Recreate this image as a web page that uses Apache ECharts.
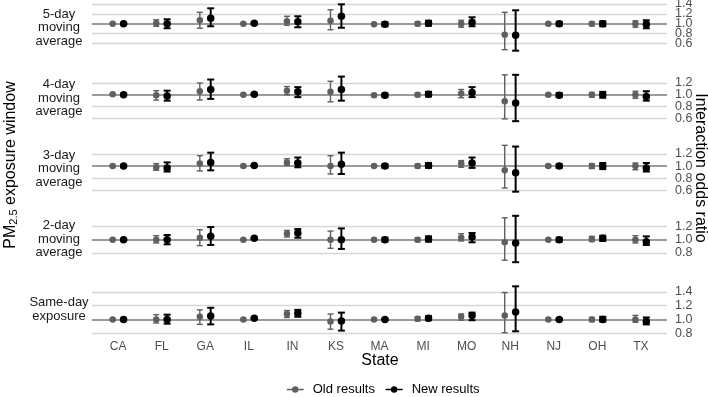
<!DOCTYPE html>
<html>
<head>
<meta charset="utf-8">
<script src="https://cdn.jsdelivr.net/npm/echarts@6/dist/echarts.min.js"></script>
<style>
  html, body { margin: 0; padding: 0; background: #fff; }
  #main { width: 708px; height: 397px; }
</style>
</head>
<body>
<div id="main"></div>
<script>
// categories
const states = ['CA', 'FL', 'GA', 'IL', 'IN', 'KS', 'MA', 'MI', 'MO', 'NH', 'NJ', 'OH', 'TX'];
const windows = ['5-day\nmoving\naverage', '4-day\nmoving\naverage', '3-day\nmoving\naverage',
                 '2-day\nmoving\naverage', 'Same-day\nexposure'];

// one row per exposure window (same order as windows), one value per state
const oldEst = [
    [1.00, 1.01, 1.07, 1.00, 1.05, 1.06, 0.99, 1.00, 1.00, 0.78, 1.00, 1.00, 1.00],
    [1.01, 0.99, 1.06, 1.00, 1.07, 1.05, 0.99, 1.00, 1.02, 0.89, 1.00, 1.00, 1.00],
    [1.00, 0.98, 1.04, 1.00, 1.06, 1.00, 1.00, 1.00, 1.04, 0.93, 1.00, 1.00, 1.00],
    [1.00, 1.00, 1.03, 1.00, 1.09, 1.00, 1.00, 1.00, 1.03, 0.96, 1.00, 1.01, 1.00],
    [1.00, 1.00, 1.04, 1.00, 1.08, 0.97, 1.00, 1.01, 1.04, 1.06, 1.00, 1.00, 1.00]
];
const oldLo = [
    [0.99, 0.95, 0.91, 0.99, 0.97, 0.88, 0.97, 0.96, 0.93, 0.48, 0.98, 0.96, 0.93],
    [1.00, 0.91, 0.91, 0.99, 1.00, 0.88, 0.97, 0.97, 0.95, 0.59, 0.98, 0.96, 0.94],
    [0.99, 0.93, 0.92, 0.99, 1.01, 0.87, 0.98, 0.97, 0.98, 0.64, 0.98, 0.96, 0.94],
    [0.99, 0.95, 0.91, 0.99, 1.04, 0.87, 0.98, 0.97, 0.98, 0.69, 0.99, 0.97, 0.95],
    [0.99, 0.95, 0.93, 0.99, 1.03, 0.86, 0.99, 0.98, 0.99, 0.81, 0.99, 0.97, 0.96]
];
const oldHi = [
    [1.01, 1.08, 1.23, 1.01, 1.15, 1.28, 1.01, 1.04, 1.07, 1.23, 1.02, 1.04, 1.06],
    [1.02, 1.07, 1.20, 1.01, 1.14, 1.23, 1.01, 1.03, 1.09, 1.34, 1.02, 1.04, 1.06],
    [1.01, 1.04, 1.17, 1.01, 1.12, 1.17, 1.02, 1.03, 1.09, 1.34, 1.02, 1.04, 1.05],
    [1.01, 1.06, 1.15, 1.01, 1.14, 1.13, 1.02, 1.03, 1.09, 1.33, 1.01, 1.05, 1.06],
    [1.01, 1.07, 1.14, 1.01, 1.13, 1.08, 1.01, 1.04, 1.08, 1.39, 1.01, 1.03, 1.06]
];
const newEst = [
    [1.00, 1.00, 1.11, 1.01, 1.04, 1.15, 0.99, 1.01, 1.03, 0.77, 1.00, 1.00, 0.99],
    [1.00, 0.98, 1.09, 1.01, 1.05, 1.09, 0.99, 1.01, 1.04, 0.86, 0.99, 1.00, 0.97],
    [1.00, 0.97, 1.06, 1.01, 1.05, 1.03, 1.00, 1.01, 1.05, 0.89, 1.00, 1.00, 0.97],
    [1.00, 1.00, 1.05, 1.02, 1.10, 1.00, 1.00, 1.01, 1.04, 0.95, 1.00, 1.02, 0.97],
    [1.00, 1.00, 1.05, 1.02, 1.09, 0.98, 1.00, 1.02, 1.06, 1.11, 1.00, 1.00, 0.97]
];
const newLo = [
    [0.99, 0.91, 0.95, 0.99, 0.93, 0.92, 0.95, 0.96, 0.95, 0.46, 0.96, 0.95, 0.91],
    [0.99, 0.90, 0.93, 1.00, 0.96, 0.90, 0.96, 0.97, 0.96, 0.55, 0.96, 0.95, 0.90],
    [0.99, 0.91, 0.93, 1.00, 0.98, 0.87, 0.97, 0.97, 0.97, 0.58, 0.97, 0.95, 0.91],
    [0.99, 0.93, 0.92, 1.01, 1.03, 0.86, 0.97, 0.97, 0.96, 0.66, 0.97, 0.98, 0.92],
    [0.99, 0.94, 0.93, 1.01, 1.04, 0.84, 0.99, 0.99, 0.99, 0.83, 0.99, 0.97, 0.93]
];
const newHi = [
    [1.01, 1.09, 1.31, 1.03, 1.15, 1.39, 1.03, 1.06, 1.13, 1.27, 1.04, 1.05, 1.07],
    [1.01, 1.07, 1.26, 1.02, 1.13, 1.31, 1.02, 1.05, 1.13, 1.34, 1.03, 1.05, 1.06],
    [1.01, 1.06, 1.22, 1.02, 1.14, 1.22, 1.03, 1.05, 1.14, 1.32, 1.03, 1.05, 1.05],
    [1.01, 1.07, 1.19, 1.03, 1.16, 1.17, 1.03, 1.05, 1.10, 1.36, 1.03, 1.06, 1.05],
    [1.01, 1.07, 1.17, 1.03, 1.14, 1.10, 1.01, 1.05, 1.10, 1.48, 1.01, 1.04, 1.03]
];

// y tick labels per panel
const breaks = [
    [0.6, 0.8, 1.0, 1.2, 1.4],
    [0.6, 0.8, 1.0, 1.2],
    [0.6, 0.8, 1.0, 1.2],
    [0.8, 1.0, 1.2],
    [0.8, 1.0, 1.2, 1.4]
];

const OLD_COLOR = '#5f5f5f';
const NEW_COLOR = '#000000';
const FONT = "'Liberation Sans', Arial, sans-serif";
const DODGE = 0.125;

const panelTop = k => 2 + 70.5 * k;
const panelH = 51;

// error bar drawing (vertical line + caps)
function errorBar(color, width, halfCap) {
    return function (params, api) {
        const x = api.value(0);
        const pLo = api.coord([x, api.value(1)]);
        const pHi = api.coord([x, api.value(2)]);
        const style = { stroke: color, lineWidth: width };
        return {
            type: 'group',
            children: [
                { type: 'line', shape: { x1: pLo[0], y1: pLo[1], x2: pHi[0], y2: pHi[1] }, style: style },
                { type: 'line', shape: { x1: pLo[0] - halfCap, y1: pLo[1], x2: pLo[0] + halfCap, y2: pLo[1] }, style: style },
                { type: 'line', shape: { x1: pHi[0] - halfCap, y1: pHi[1], x2: pHi[0] + halfCap, y2: pHi[1] }, style: style }
            ]
        };
    };
}

const grids = [], xAxes = [], yAxes = [], series = [], graphics = [];

windows.forEach((w, k) => {
    grids.push({ left: 92, right: 41, top: panelTop(k), height: panelH });

    const isLast = k === windows.length - 1;
    xAxes.push({
        gridIndex: k,
        type: 'value',
        min: 0.4,
        max: 13.6,
        axisLine: { show: false },
        axisTick: { show: false },
        splitLine: { show: false },
        axisLabel: {
            show: isLast,
            customValues: states.map((s, i) => i + 1),
            formatter: v => states[Math.round(v) - 1] || '',
            showMinLabel: true,
            showMaxLabel: true,
            color: '#4d4d4d',
            fontSize: 12,
            fontFamily: FONT,
            margin: 6
        }
    });

    // 5% expansion like ggplot
    const all = oldLo[k].concat(oldHi[k], newLo[k], newHi[k]);
    const lo = Math.min(...all), hi = Math.max(...all);
    const pad = (hi - lo) * 0.05;
    yAxes.push({
        gridIndex: k,
        type: 'value',
        position: 'right',
        min: lo - pad,
        max: hi + pad,
        axisLine: { show: false },
        axisTick: { show: false },
        splitLine: { show: false },
        axisLabel: { show: false }
    });

    // gridlines + reference line at 1, tick labels at the right end
    series.push({
        type: 'line',
        name: 'grid' + k,
        xAxisIndex: k,
        yAxisIndex: k,
        data: [],
        z: 1,
        markLine: {
            silent: true,
            symbol: 'none',
            animation: false,
            z: 1,
            label: {
                show: true,
                position: 'end',
                distance: 8,
                formatter: p => Number(p.value).toFixed(1),
                color: '#4d4d4d',
                fontSize: 12.5,
                fontFamily: FONT
            },
            data: breaks[k].map(b => ({
                yAxis: b,
                lineStyle: b === 1.0
                    ? { color: '#7a7a7a', width: 1.6, type: 'solid' }
                    : { color: '#d6d6d6', width: 1.3, type: 'solid' }
            }))
        }
    });

    const groups = [
        { name: 'Old results', est: oldEst[k], lo: oldLo[k], hi: oldHi[k], dx: -DODGE, color: OLD_COLOR, lw: 1.4, cap: 3, size: 6.5 },
        { name: 'New results', est: newEst[k], lo: newLo[k], hi: newHi[k], dx: DODGE, color: NEW_COLOR, lw: 2, cap: 3.5, size: 7.5 }
    ];
    groups.forEach((g, gi) => {
        series.push({
            type: 'custom',
            name: g.name + ' CI',
            xAxisIndex: k,
            yAxisIndex: k,
            z: 3 + gi * 2,
            silent: true,
            renderItem: errorBar(g.color, g.lw, g.cap),
            encode: { x: 0, y: [1, 2] },
            data: states.map((s, i) => [i + 1 + g.dx, g.lo[i], g.hi[i]])
        });
        series.push({
            type: 'line',
            name: g.name,
            xAxisIndex: k,
            yAxisIndex: k,
            z: 4 + gi * 2,
            symbol: 'circle',
            symbolSize: g.size,
            showAllSymbol: true,
            itemStyle: { color: g.color },
            lineStyle: { color: g.color, width: 0, opacity: 0 },
            animation: false,
            data: states.map((s, i) => [i + 1 + g.dx, g.est[i]])
        });
    });

    // facet strip label on the left
    graphics.push({
        type: 'text',
        x: 59,
        y: panelTop(k) + panelH / 2,
        style: {
            text: w,
            fill: '#1a1a1a',
            font: '13px ' + FONT,
            align: 'center',
            verticalAlign: 'middle',
            lineHeight: 13.5
        }
    });
});

// axis titles
graphics.push({
    type: 'text',
    x: 380,
    y: 361,
    style: { text: 'State', fill: '#000', font: '16px ' + FONT, align: 'center', verticalAlign: 'middle' }
});
graphics.push({
    type: 'text',
    x: 700,
    y: 168,
    rotation: -Math.PI / 2,
    style: { text: 'Interaction odds ratio', fill: '#000', font: '16px ' + FONT, align: 'center', verticalAlign: 'middle' }
});
graphics.push({
    type: 'text',
    x: 10,
    y: 165,
    rotation: Math.PI / 2,
    style: {
        text: '{a|PM}{b|2.5}{a| exposure window}',
        align: 'center',
        verticalAlign: 'middle',
        rich: {
            a: { fill: '#000', fontSize: 16, fontFamily: FONT, lineHeight: 18, verticalAlign: 'bottom' },
            b: { fill: '#000', fontSize: 11, fontFamily: FONT, lineHeight: 18, verticalAlign: 'bottom' }
        }
    }
});

const chart = echarts.init(document.getElementById('main'), null, { renderer: 'canvas' });
chart.setOption({
    animation: false,
    backgroundColor: '#fff',
    grid: grids,
    xAxis: xAxes,
    yAxis: yAxes,
    legend: {
        data: ['Old results', 'New results'],
        left: 286,
        top: 383,
        padding: 0,
        itemWidth: 17,
        itemHeight: 8,
        itemGap: 10,
        lineStyle: { width: 1.5, opacity: 1 },
        textStyle: { color: '#000', fontSize: 13, fontFamily: FONT, padding: [0, 0, 0, 4] }
    },
    series: series,
    graphic: graphics
});
</script>
</body>
</html>
